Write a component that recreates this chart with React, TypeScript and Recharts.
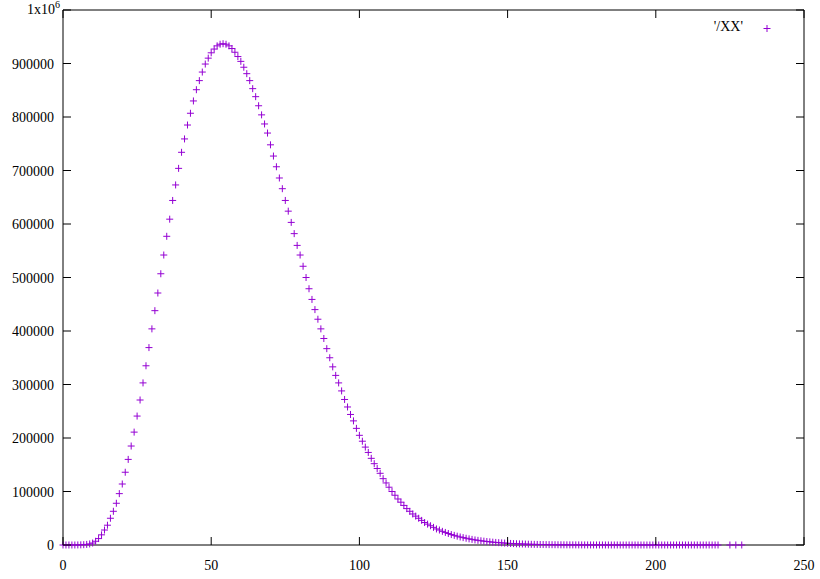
import { ScatterChart, Scatter, XAxis, YAxis, ReferenceArea } from "recharts";

// counts, one per integer x starting at 0
const counts = [
  0, 0, 0, 10, 40, 120, 300, 600, 1100, 2000,
  3700, 7000, 12000, 19000, 28000, 37000, 50000, 63000, 78000, 96000,
  114000, 136000, 160000, 185000, 211000, 241000, 271000, 303000, 335000, 369000,
  404000, 438000, 471000, 507000, 542000, 577000, 609000, 644000, 673000, 704000,
  734000, 759000, 785000, 807000, 830000, 851000, 868000, 884000, 899000, 910000,
  920000, 927000, 933000, 936000, 937000, 936000, 933000, 928000, 921000, 913000,
  904000, 893000, 881000, 868000, 853000, 838000, 821000, 804000, 787000, 770000,
  748000, 727000, 707000, 686000, 666000, 644000, 624000, 603000, 582000, 560000,
  542000, 521000, 500000, 479000, 459000, 440000, 422000, 404000, 386000, 367000,
  350000, 333000, 317000, 303000, 288000, 272000, 258000, 244000, 232000, 218000,
  205000, 194000, 183000, 173000, 162000, 152000, 143000, 134000, 124000, 116000,
  108000, 100000, 93000, 86000, 80000, 74000, 68000, 63000, 58000, 54000,
  50000, 46000, 42000, 39000, 36000, 33000, 30000, 28000, 25500, 23500,
  21500, 19500, 18000, 16500, 15000, 13800, 12600, 11500, 10500, 9500,
  8700, 7900, 7200, 6500, 5900, 5300, 4800, 4400, 4000, 3600,
  3200, 2900, 2600, 2300, 2100, 1900, 1700, 1500, 1300, 1200,
  1050, 950, 850, 750, 650, 580, 510, 450, 400, 350,
  310, 270, 240, 210, 180, 160, 140, 120, 105, 92,
  80, 70, 61, 53, 46, 40, 35, 30, 26, 23,
  20, 17, 15, 13, 11, 10, 9, 8, 7, 6,
  5, 5, 4, 4, 3, 3, 3, 2, 2, 2,
  2, 1, 1, 1, 1, 1, 1, 1, 1, 1,
  1, 1,
];

// a few stray points after the dense run
const tailX = [225, 227, 229];
const tailY = [1, 1, 1];

const xTicks = [0, 50, 100, 150, 200, 250];
const yTicks = [0, 100000, 200000, 300000, 400000, 500000, 600000, 700000, 800000, 900000, 1000000];

const seriesName = "'/XX'";

const data = [
  ...counts.map((y, i) => ({ x: i, y })),
  ...tailX.map((x, i) => ({ x, y: tailY[i] })),
];

const PLOT = { left: 63, right: 804, top: 10, bottom: 545 };
const TICK = 8;
const FONT = "Liberation Serif, Times New Roman, serif";
const PURPLE = "#9400d3";

// gnuplot style: inward ticks on both sides, label outside the left border
function YTick(props: any) {
  const { y, payload } = props;
  const v = payload.value;
  return (
    <g>
      <line x1={PLOT.left} x2={PLOT.left + TICK} y1={y} y2={y} stroke="#000" />
      <line x1={PLOT.right - TICK} x2={PLOT.right} y1={y} y2={y} stroke="#000" />
      {v === 1000000 ? (
        <text x={27} y={y + 4} fontFamily={FONT} fontSize={14} fill="#000">
          1x10<tspan dy={-6} fontSize={10}>6</tspan>
        </text>
      ) : (
        <text x={PLOT.left - 9} y={y + 5} textAnchor="end" fontFamily={FONT} fontSize={14} fill="#000">
          {v}
        </text>
      )}
    </g>
  );
}

function XTick(props: any) {
  const { x, payload } = props;
  return (
    <g>
      <line x1={x} x2={x} y1={PLOT.bottom} y2={PLOT.bottom - TICK} stroke="#000" />
      <line x1={x} x2={x} y1={PLOT.top} y2={PLOT.top + TICK} stroke="#000" />
      <text x={x} y={569.5} textAnchor="middle" fontFamily={FONT} fontSize={14} fill="#000">
        {payload.value}
      </text>
    </g>
  );
}

function Plus(props: any) {
  const { cx, cy } = props;
  if (cx == null || cy == null) return null;
  return (
    <path
      d={`M${cx - 3.5},${cy}H${cx + 3.5}M${cx},${cy - 3.5}V${cy + 3.5}`}
      stroke={PURPLE}
      strokeWidth={1}
      fill="none"
    />
  );
}

export default function App() {
  return (
    <div style={{ position: "absolute", left: 0, top: 0, width: 820, height: 579, background: "#fff" }}>
      <ScatterChart
        width={820}
        height={579}
        margin={{ top: PLOT.top, right: 820 - PLOT.right, bottom: 0, left: 0 }}
      >
        <XAxis
          type="number"
          dataKey="x"
          domain={[0, 250]}
          ticks={xTicks}
          height={579 - PLOT.bottom}
          axisLine={false}
          tickLine={false}
          tickSize={0}
          tick={<XTick />}
          interval={0}
        />
        <YAxis
          type="number"
          dataKey="y"
          domain={[0, 1000000]}
          ticks={yTicks}
          width={PLOT.left}
          axisLine={false}
          tickLine={false}
          tickSize={0}
          tick={<YTick />}
          interval={0}
        />
        <ReferenceArea x1={0} x2={250} y1={0} y2={1000000} fill="none" stroke="#000" strokeWidth={1} />
        <Scatter name={seriesName} data={data} shape={<Plus />} isAnimationActive={false} />
      </ScatterChart>
      <div
        style={{
          position: "absolute",
          left: 643,
          top: 19,
          width: 100,
          textAlign: "right",
          fontFamily: FONT,
          fontSize: 14,
          lineHeight: "16px",
          color: "#000",
        }}
      >
        {seriesName}
      </div>
      <svg style={{ position: "absolute", left: 762, top: 23 }} width={11} height={11}>
        <path d="M1.5,5.5H8.5M5,2V9" stroke={PURPLE} strokeWidth={1} fill="none" />
      </svg>
    </div>
  );
}
